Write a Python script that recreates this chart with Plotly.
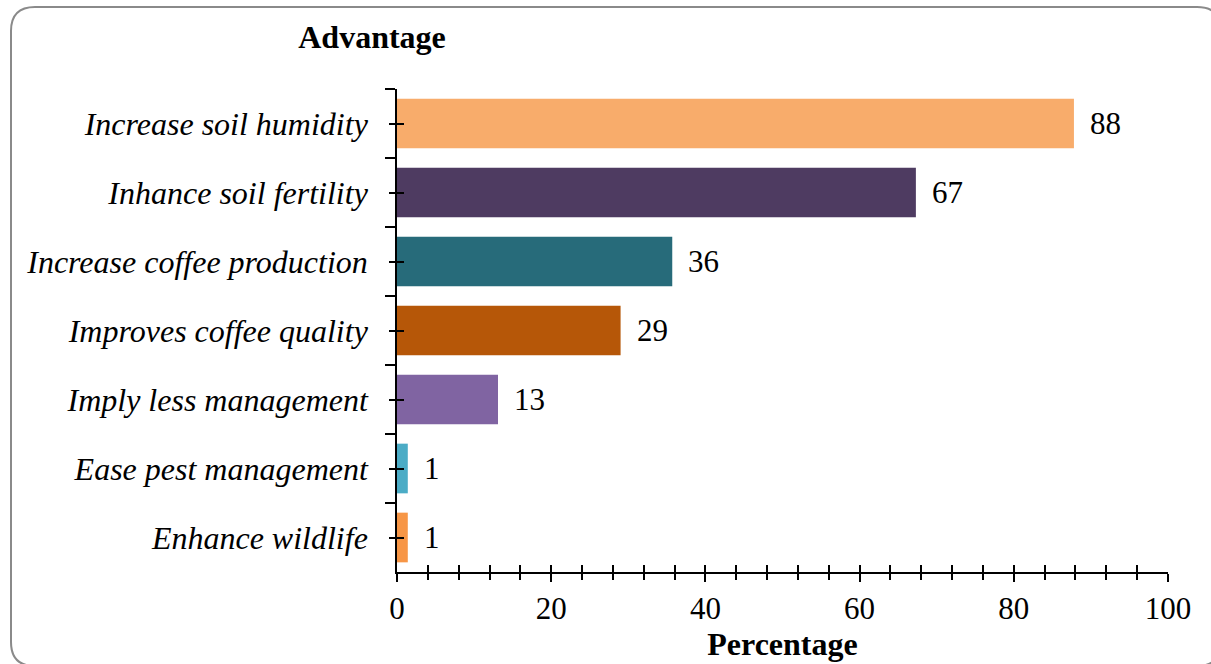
import plotly.graph_objects as go

# ---- data ----
categories = [
    "Increase soil humidity",
    "Inhance soil fertility",
    "Increase coffee production",
    "Improves coffee quality",
    "Imply less management",
    "Ease pest management",
    "Enhance wildlife",
]
percentages = [87.8, 67.3, 35.7, 29.0, 13.1, 1.4, 1.4]
bar_colors = ["#F8AC6B", "#4E3B61", "#276B7A", "#B65708", "#8064A2", "#4BACC6", "#F79646"]
x_title = "Percentage"
chart_title = "Advantage"

# ---- layout constants ----
W, H = 1211, 664
L, R, T, B = 397, 43, 89, 92
PW, PH = W - L - R, H - T - B
SERIF = "Liberation Serif"


def px2paper(px, py):
    return (px - L) / PW, (H - B - py) / PH


fig = go.Figure()
fig.add_trace(go.Bar(
    x=percentages, y=categories, orientation="h",
    marker=dict(color=bar_colors, line=dict(width=0)),
    hoverinfo="skip",
))
# empty traces so overlay tick axes are drawn
fig.add_trace(go.Scatter(x=[None], y=[None], xaxis="x2", yaxis="y", hoverinfo="skip"))
fig.add_trace(go.Scatter(x=[None], y=[None], xaxis="x", yaxis="y2", hoverinfo="skip"))
fig.add_trace(go.Scatter(x=[None], y=[None], xaxis="x", yaxis="y3", hoverinfo="skip"))

# value labels
for cat, val in zip(categories, percentages):
    fig.add_annotation(
        x=val, y=cat, text=f"{round(val):d}", showarrow=False,
        xanchor="left", xshift=14, yanchor="middle",
        font=dict(family=SERIF, size=31, color="black"),
    )

# rounded border
x0, y0 = px2paper(11, 7)
x1, y1 = px2paper(1221, 666)
rx, ry = 24 / PW, 24 / PH
path = (
    f"M {x0+rx},{y0} L {x1-rx},{y0} Q {x1},{y0} {x1},{y0-ry} "
    f"L {x1},{y1+ry} Q {x1},{y1} {x1-rx},{y1} "
    f"L {x0+rx},{y1} Q {x0},{y1} {x0},{y1+ry} "
    f"L {x0},{y0-ry} Q {x0},{y0} {x0+rx},{y0} Z"
)
fig.add_shape(type="path", path=path, xref="paper", yref="paper",
              line=dict(color="#8A8A8A", width=2), layer="below")

n = len(categories)
fig.update_layout(
    width=W, height=H,
    margin=dict(l=L, r=R, t=T, b=B, autoexpand=False),
    paper_bgcolor="white", plot_bgcolor="white",
    showlegend=False,
    bargap=0.28,
    title=dict(text=f"<b>{chart_title}</b>", x=372 / W, xanchor="center",
               y=1 - 37 / H, yanchor="middle", xref="container", yref="container",
               font=dict(family=SERIF, size=32, color="black")),
    xaxis=dict(
        range=[0, 100], dtick=20, tick0=0,
        ticks="outside", ticklen=8, tickwidth=1.5, tickcolor="black",
        minor=dict(dtick=4, ticks="outside", ticklen=6, tickwidth=1.5, tickcolor="black"),
        showline=True, linecolor="black", linewidth=1.5,
        showgrid=False, zeroline=False,
        tickfont=dict(family=SERIF, size=31, color="black"),
        title=dict(text=f"<b>{x_title}</b>", font=dict(family=SERIF, size=32, color="black"), standoff=6),
        fixedrange=True,
    ),
    xaxis2=dict(
        overlaying="x", anchor="y", range=[0, 100], dtick=4, tick0=0,
        ticks="inside", ticklen=7, tickwidth=1.5, tickcolor="black",
        showticklabels=False, showline=False, showgrid=False, zeroline=False, side="bottom",
        fixedrange=True,
    ),
    yaxis=dict(
        type="category", categoryorder="array", categoryarray=categories,
        autorange="reversed",
        ticks="outside", tickson="boundaries", ticklen=10, tickwidth=1.5, tickcolor="black",
        showline=True, linecolor="black", linewidth=1.5,
        showgrid=False, zeroline=False,
        tickfont=dict(family=SERIF, size=32, color="black", style="italic"),
        ticklabelstandoff=21,
        fixedrange=True,
    ),
    yaxis2=dict(
        overlaying="y", anchor="x", range=[n - 0.5, -0.5],
        tickmode="array", tickvals=list(range(n)),
        ticks="inside", ticklen=7, tickwidth=1.5, tickcolor="black",
        showticklabels=False, showline=False, showgrid=False, zeroline=False, side="left",
        fixedrange=True,
    ),
    yaxis3=dict(
        overlaying="y", anchor="x", range=[n - 0.5, -0.5],
        tickmode="array", tickvals=list(range(n)),
        ticks="outside", ticklen=7, tickwidth=1.5, tickcolor="black",
        showticklabels=False, showline=False, showgrid=False, zeroline=False, side="left",
        fixedrange=True,
    ),
)

fig.write_html("out.html")
